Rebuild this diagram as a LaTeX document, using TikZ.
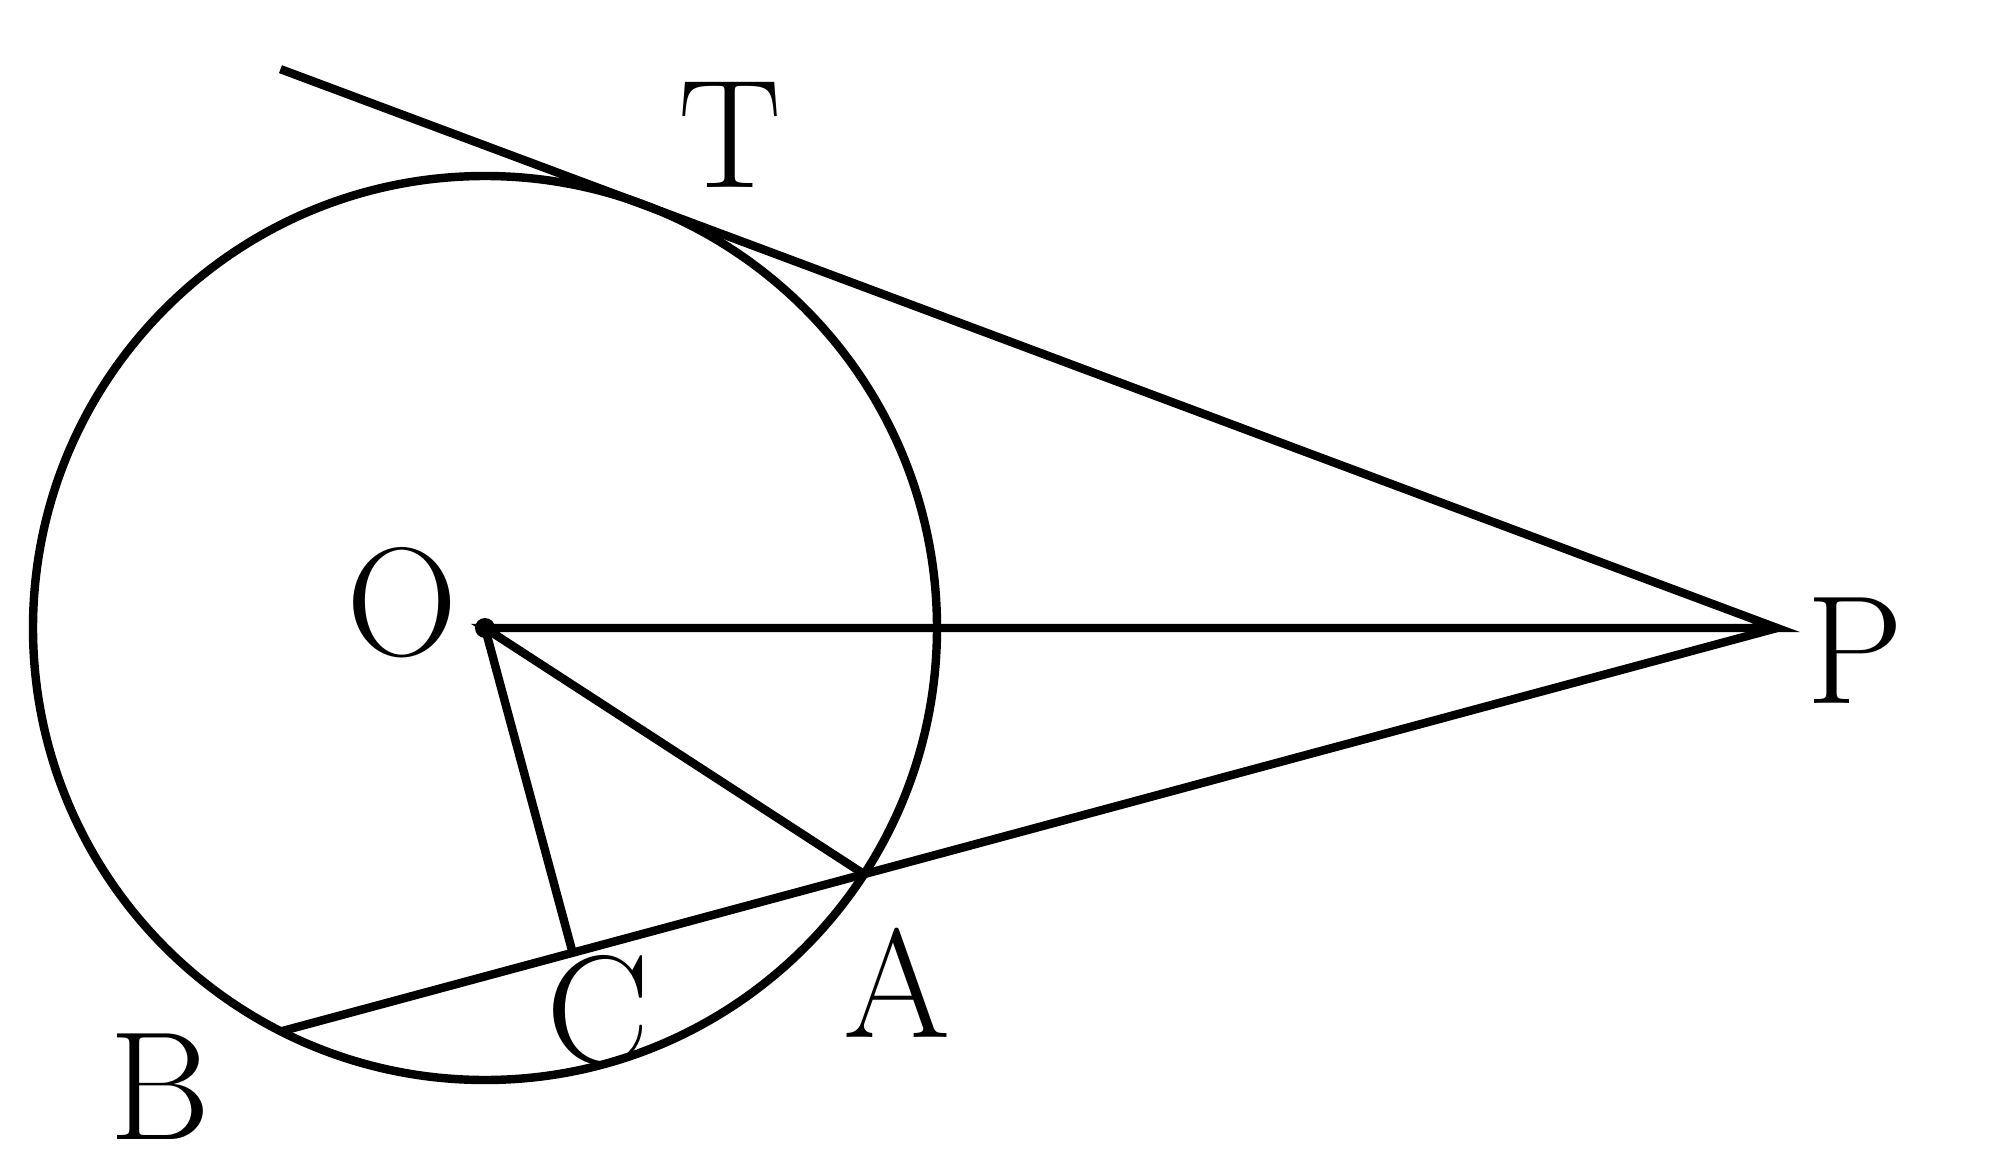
\documentclass[tikz,border=0pt]{standalone}
\usetikzlibrary{calc}

\begin{document}
\begin{tikzpicture}[line width=2.4pt, every node/.style={font=\fontsize{44}{50}\selectfont}]
            \useasboundingbox (0,0) rectangle (20,11.71);

            \coordinate (O) at (4.85,5.43);
            \coordinate (P) at (17.77,5.43);
            \coordinate (T) at ($(O)+(69.5:4.52)$);
            \coordinate (E) at ($(P)!1.32!(T)$);
            \coordinate (A) at ($(O)+(-33:4.52)$);
            \coordinate (C) at ($(P)!(O)!(A)$);
            \coordinate (B) at ($(A)!2!(C)$);

            \draw (O) circle (4.52);
            \draw (E) -- (P) -- (O) -- (A);
            \draw (P) -- (B);
            \draw (O) -- (C);
            \fill (O) circle (0.1);

            \node (lT) at (7.3,10.36) {T};
            \node (lO) at (4.02,5.68) {O};
            \node (lP) at (18.55,5.2) {P};
            \node (lA) at (8.97,1.88) {A};
            \node (lC) at (5.98,1.6) {C};
            \node (lB) at (1.6,0.84) {B};
        \end{tikzpicture}
\end{document}
